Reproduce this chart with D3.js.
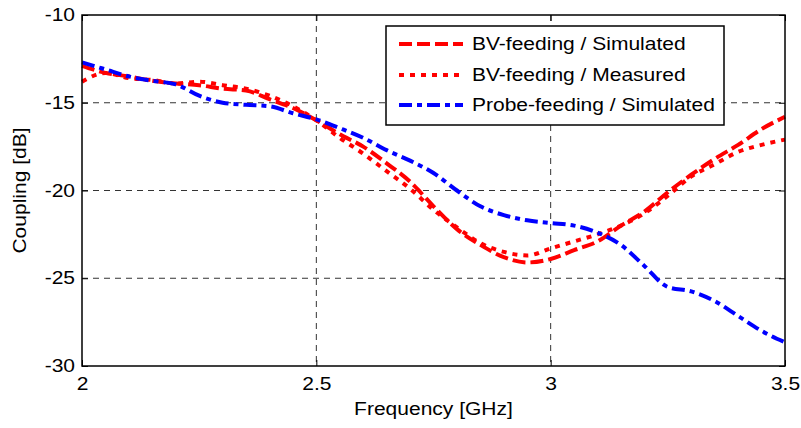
<!DOCTYPE html>
<meta charset="utf-8">
<head>
<style>
  body { margin: 0; background: #fff; }
  text { font-family: "Liberation Sans", Arial, sans-serif; fill: #000; }
  .grid line { stroke: #333; stroke-width: 1px; stroke-dasharray: 6,5; }
</style>
</head>
<body>
<script src="https://cdn.jsdelivr.net/npm/d3@7"></script>
<script>
// frequency samples (GHz)
var freq = [2.00, 2.05, 2.10, 2.15, 2.20, 2.25, 2.30, 2.35, 2.40, 2.45, 2.50,
            2.55, 2.60, 2.65, 2.70, 2.75, 2.80, 2.85, 2.90, 2.95, 3.00,
            3.05, 3.10, 3.15, 3.20, 3.25, 3.30, 3.35, 3.40, 3.45, 3.50];

var bvSim = [-12.9, -13.3, -13.5, -13.75, -13.9, -14.0, -14.2, -14.3, -14.8, -15.3, -16.0,
             -16.8, -17.5, -18.45, -19.5, -20.9, -22.2, -23.1, -23.8, -24.1, -23.9,
             -23.4, -22.9, -22.0, -21.2, -20.1, -19.1, -18.2, -17.4, -16.5, -15.8];

var bvMeas = [-13.8, -13.3, -13.6, -13.7, -13.9, -13.8, -14.0, -14.2, -14.6, -15.2, -16.0,
              -17.0, -17.9, -18.9, -19.9, -21.1, -22.1, -23.0, -23.5, -23.7, -23.3,
              -22.9, -22.5, -22.0, -21.3, -20.3, -19.2, -18.5, -17.8, -17.4, -17.1];

var probeSim = [-12.7, -13.1, -13.5, -13.75, -13.95, -14.6, -15.0, -15.12, -15.2, -15.6, -15.95,
                -16.45, -17.0, -17.7, -18.3, -19.0, -20.0, -20.9, -21.4, -21.7, -21.85,
                -22.0, -22.4, -23.1, -24.3, -25.5, -25.75, -26.3, -27.15, -28.0, -28.65];

var xTicks = [2, 2.5, 3, 3.5];
var yTicks = [-10, -15, -20, -25, -30];

var series = [
    { name: "BV-feeding / Simulated", values: bvSim, color: "#ff0000", dash: "13,5" },
    { name: "BV-feeding / Measured", values: bvMeas, color: "#ff0000", dash: "5,6" },
    { name: "Probe-feeding / Simulated", values: probeSim, color: "#0000ff", dash: "13,5,5,5" }
];

var margin = { top: 15, right: 16, bottom: 62, left: 82 },
    width = 801 - margin.left - margin.right,
    height = 428 - margin.top - margin.bottom;

var x = d3.scaleLinear().domain([2, 3.5]).range([0, width]);
var y = d3.scaleLinear().domain([-30, -10]).range([height, 0]);

var svg = d3.select("body").append("svg")
    .attr("width", 801)
    .attr("height", 428)
    .append("g")
    .attr("transform", "translate(" + margin.left + "," + margin.top + ")");

// grid
var grid = svg.append("g").attr("class", "grid");
grid.selectAll(".gx").data(xTicks.slice(1, -1)).enter().append("line")
    .attr("x1", function(d) { return x(d); }).attr("x2", function(d) { return x(d); })
    .attr("y1", 0).attr("y2", height);
grid.selectAll(".gy").data(yTicks.slice(1, -1)).enter().append("line")
    .attr("y1", function(d) { return y(d); }).attr("y2", function(d) { return y(d); })
    .attr("x1", 0).attr("x2", width);

// lines
var line = d3.line()
    .x(function(d, i) { return x(freq[i]); })
    .y(function(d) { return y(d); })
    .curve(d3.curveMonotoneX);

svg.selectAll(".series").data(series).enter().append("path")
    .attr("fill", "none")
    .attr("stroke", function(d) { return d.color; })
    .attr("stroke-width", 4)
    .attr("stroke-dasharray", function(d) { return d.dash; })
    .attr("d", function(d) { return line(d.values); });

// axes with inward ticks
function styleAxis(g) {
    g.select(".domain").remove();
    g.selectAll(".tick line").attr("stroke", "#000");
    g.selectAll(".tick text").style("font-size", "17.5px")
        .style("font-family", "Liberation Sans, Arial, sans-serif");
}
svg.append("g")
    .attr("transform", "translate(0," + height + ")")
    .call(d3.axisBottom(x).tickValues(xTicks).tickSizeInner(-6).tickSizeOuter(0).tickPadding(12).tickFormat(String))
    .call(styleAxis);
svg.append("g")
    .call(d3.axisLeft(y).tickValues(yTicks).tickSizeInner(-6).tickSizeOuter(0).tickPadding(7).tickFormat(String))
    .call(styleAxis);
svg.append("g")
    .call(d3.axisTop(x).tickValues(xTicks).tickSizeInner(-6).tickSizeOuter(0).tickFormat(""))
    .call(styleAxis);
svg.append("g")
    .attr("transform", "translate(" + width + ",0)")
    .call(d3.axisRight(y).tickValues(yTicks).tickSizeInner(-6).tickSizeOuter(0).tickFormat(""))
    .call(styleAxis);

// frame
svg.append("rect")
    .attr("width", width).attr("height", height)
    .attr("fill", "none").attr("stroke", "#000").attr("stroke-width", 1.5);

// axis labels
svg.append("text")
    .attr("x", width / 2).attr("y", height + 49)
    .attr("text-anchor", "middle")
    .style("font-size", "17.5px")
    .text("Frequency [GHz]");
svg.append("text")
    .attr("transform", "rotate(-90)")
    .attr("x", -height / 2).attr("y", -56)
    .attr("text-anchor", "middle")
    .style("font-size", "17.5px")
    .text("Coupling [dB]");

// legend
var legend = svg.append("g").attr("transform", "translate(304,11)");
legend.append("rect")
    .attr("width", 338).attr("height", 99)
    .attr("fill", "#fff").attr("stroke", "#000").attr("stroke-width", 1.5);
var rowY = [18, 49, 79];
var rows = legend.selectAll(".row").data(series).enter().append("g")
    .attr("transform", function(d, i) { return "translate(0," + rowY[i] + ")"; });
rows.append("line")
    .attr("x1", 13).attr("x2", 77)
    .attr("stroke", function(d) { return d.color; })
    .attr("stroke-width", 4)
    .attr("stroke-dasharray", function(d) { return d.dash; });
rows.append("text")
    .attr("x", 86).attr("dy", "0.35em")
    .style("font-size", "17.5px")
    .text(function(d) { return d.name; });

// the source image text is horizontally wider than the font; stretch a bit
d3.selectAll("text").each(function() {
    var len = this.getComputedTextLength();
    if (len > 0) {
        d3.select(this).attr("textLength", len * 1.2).attr("lengthAdjust", "spacingAndGlyphs");
    }
});
</script>
</body>
